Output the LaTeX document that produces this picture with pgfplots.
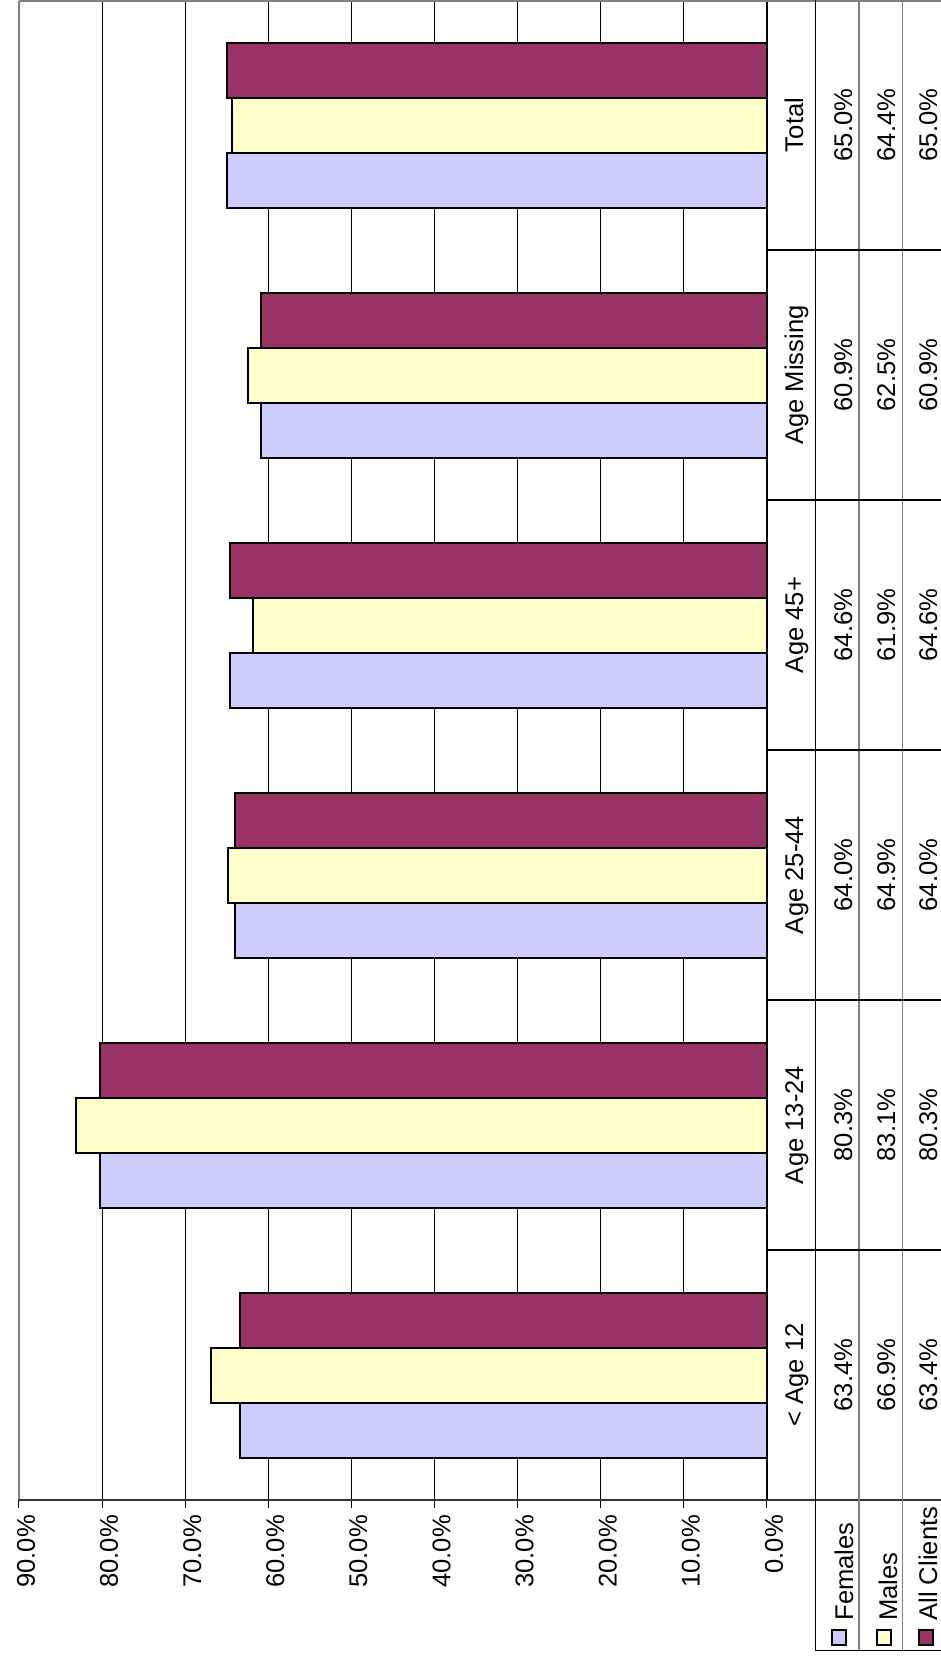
\documentclass[border=0pt]{standalone}
\usepackage{pgfplots}
\pgfplotsset{compat=1.18}
\usepackage{fontspec}
\setmainfont{Liberation Sans}
\definecolor{fem}{HTML}{CCCCFF}
\definecolor{mal}{HTML}{FFFFCC}
\definecolor{allc}{HTML}{993366}
\begin{document}
\begin{tikzpicture}
\useasboundingbox (-9.5pt,-78pt) rectangle (461pt,750pt);
\begin{axis}[
  at={(0,0)}, anchor=south west,
  scale only axis, width=374pt, height=749.5pt,
  xbar, x dir=reverse,
  xmin=0, xmax=90, ymin=-0.5, ymax=5.5,
  xtick={0,10,...,90},
  xticklabels={0.0\%,10.0\%,20.0\%,30.0\%,40.0\%,50.0\%,60.0\%,70.0\%,80.0\%,90.0\%},
  xticklabel style={rotate=90, anchor=east, font=\fontsize{12.8}{14}\selectfont, yshift=-3.5pt},
  ytick=\empty,
  xtick pos=left,
  tick align=outside, major tick length=4pt,
  tick style={black, line width=0.5pt},
  xmajorgrids, major grid style={black, line width=0.5pt},
  axis line style={draw=none},
  bar width=27.5pt,
  clip=false,
]
\addplot[draw=black, line width=1pt, fill=fem, bar shift=-27.5pt] coordinates {(63.4,0) (80.3,1) (64.0,2) (64.6,3) (60.9,4) (65.0,5)};
\addplot[draw=black, line width=1pt, fill=mal, bar shift=0pt] coordinates {(66.9,0) (83.1,1) (64.9,2) (61.9,3) (62.5,4) (64.4,5)};
\addplot[draw=black, line width=1pt, fill=allc, bar shift=27.5pt] coordinates {(63.4,0) (80.3,1) (64.0,2) (64.6,3) (60.9,4) (65.0,5)};
\draw[gray, line width=0.9pt] (axis cs:90,-0.5) -- (axis cs:90,5.5);
\draw[black, line width=1pt] (axis cs:0,-0.5) -- (axis cs:0,5.5);
\end{axis}
\begin{scope}[shift={(-9.5pt,750pt)}, x=0.5pt, y=-0.5pt]
  % borders
  \draw[gray, line width=0.9pt] (19,1) -- (941,1);
  \draw[black!80, line width=0.7pt] (19,1500) -- (941,1500);
  % table verticals
  \draw[black, line width=0.6pt] (815.7,0) -- (815.7,1650.5);
  \draw[gray, line width=0.6pt] (859,0) -- (859,1650.5);
  \draw[gray, line width=0.6pt] (902.3,0) -- (902.3,1650.5);
  \draw[black, line width=0.6pt] (815.7,1650.5) -- (941,1650.5);
  \foreach \yy in {250,500,750,1000,1250}
    \draw[black, line width=0.6pt] (767,\yy) -- (941,\yy);
  % category names and values
  \begin{scope}[every node/.style={rotate=90, anchor=base, inner sep=0pt, font=\fontsize{12.8}{14}\selectfont}]
  \node at (803,1375) {< Age 12};
  \node at (803,1125) {Age 13-24};
  \node at (803,875) {Age 25-44};
  \node at (803,625) {Age 45+};
  \node at (803,375) {Age Missing};
  \node at (803,125) {Total};
  \node at (852,1375) {63.4\%};
  \node at (852,1125) {80.3\%};
  \node at (852,875) {64.0\%};
  \node at (852,625) {64.6\%};
  \node at (852,375) {60.9\%};
  \node at (852,125) {65.0\%};
  \node at (895,1375) {66.9\%};
  \node at (895,1125) {83.1\%};
  \node at (895,875) {64.9\%};
  \node at (895,625) {61.9\%};
  \node at (895,375) {62.5\%};
  \node at (895,125) {64.4\%};
  \node at (937,1375) {63.4\%};
  \node at (937,1125) {80.3\%};
  \node at (937,875) {64.0\%};
  \node at (937,625) {64.6\%};
  \node at (937,375) {60.9\%};
  \node at (937,125) {65.0\%};
  \node[anchor=base west] at (853,1621) {Females};
  \node[anchor=base west] at (897,1621) {Males};
  \node[anchor=base west] at (937,1621) {All Clients};
  \end{scope}
  \draw[black, line width=0.8pt, fill=fem] (832,1630) rectangle (846,1645);
  \draw[black, line width=0.8pt, fill=mal] (877,1630) rectangle (891,1645);
  \draw[black, line width=0.8pt, fill=allc] (919,1630) rectangle (933,1645);
\end{scope}
\end{tikzpicture}
\end{document}
